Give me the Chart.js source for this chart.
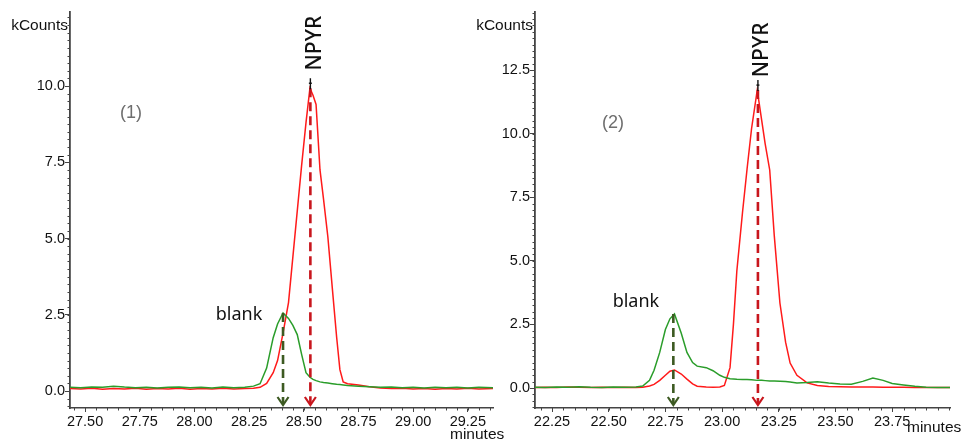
<!DOCTYPE html>
<html><head><meta charset="utf-8">
<script src="https://cdn.jsdelivr.net/npm/chart.js@4.4.1/dist/chart.umd.min.js"></script>
<style>
html,body{margin:0;padding:0;background:#fff;width:963px;height:439px;overflow:hidden;}
canvas{position:absolute;top:0;}
#c1{left:0;}
#c2{left:470px;}
</style></head><body>
<canvas id="c1" width="510" height="439"></canvas>
<canvas id="c2" width="493" height="439"></canvas>
<script>
// ---------- Panel (1) ----------
const leftTime = [27.43, 27.48, 27.53, 27.58, 27.63, 27.68, 27.73, 27.78, 27.83, 27.88, 27.93, 27.98, 28.03, 28.08, 28.13, 28.18, 28.23, 28.27, 28.30, 28.33, 28.36, 28.38, 28.405, 28.43, 28.45, 28.47, 28.49, 28.51, 28.528, 28.542, 28.556, 28.574, 28.59, 28.61, 28.63, 28.65, 28.665, 28.68, 28.70, 28.75, 28.80, 28.85, 28.90, 28.95, 29.00, 29.05, 29.10, 29.15, 29.20, 29.25, 29.30, 29.365];
const leftNPYR = [0.08, 0.07, 0.09, 0.06, 0.08, 0.07, 0.09, 0.06, 0.08, 0.07, 0.09, 0.06, 0.08, 0.07, 0.09, 0.07, 0.08, 0.09, 0.12, 0.25, 0.6, 1.0, 1.9, 2.9, 4.4, 5.9, 7.4, 8.8, 9.93, 9.7, 9.4, 7.25, 6.3, 5.05, 3.4, 1.77, 0.7, 0.3, 0.24, 0.2, 0.14, 0.1, 0.08, 0.09, 0.07, 0.08, 0.06, 0.08, 0.07, 0.09, 0.07, 0.08];
const leftBlank = [0.12, 0.11, 0.13, 0.12, 0.16, 0.13, 0.11, 0.12, 0.10, 0.12, 0.13, 0.11, 0.12, 0.10, 0.13, 0.11, 0.12, 0.16, 0.24, 0.75, 1.75, 2.2, 2.56, 2.38, 2.15, 1.85, 1.2, 0.6, 0.45, 0.38, 0.34, 0.3, 0.28, 0.26, 0.24, 0.22, 0.21, 0.2, 0.18, 0.16, 0.14, 0.12, 0.13, 0.11, 0.12, 0.10, 0.12, 0.11, 0.12, 0.10, 0.12, 0.11];
const leftXTicks = [27.50, 27.75, 28.00, 28.25, 28.50, 28.75, 29.00, 29.25];
const leftYTicks = [0, 2.5, 5.0, 7.5, 10.0];
const leftPeakTimes = [28.405, 28.53];   // blank, NPYR
const leftPeakTops = [2.56, 9.93];

// ---------- Panel (2) ----------
const rightTime = [22.175, 22.22, 22.27, 22.32, 22.37, 22.42, 22.47, 22.52, 22.57, 22.62, 22.65, 22.68, 22.70, 22.725, 22.75, 22.77, 22.79, 22.82, 22.845, 22.87, 22.89, 22.93, 22.96, 22.99, 23.01, 23.035, 23.05, 23.065, 23.09, 23.11, 23.13, 23.155, 23.175, 23.19, 23.21, 23.23, 23.255, 23.28, 23.30, 23.33, 23.375, 23.42, 23.47, 23.52, 23.57, 23.62, 23.665, 23.71, 23.75, 23.80, 23.85, 23.90, 23.95, 24.005];
const rightNPYR = [0.02, 0.03, 0.02, 0.04, 0.03, 0.02, 0.03, 0.02, 0.03, 0.02, 0.03, 0.08, 0.14, 0.3, 0.5, 0.66, 0.71, 0.55, 0.35, 0.16, 0.07, 0.04, 0.03, 0.04, 0.1, 0.8, 2.5, 4.6, 6.9, 8.6, 10.2, 11.71, 10.5, 9.6, 8.57, 6.0, 3.34, 1.8, 0.98, 0.5, 0.2, 0.1, 0.06, 0.05, 0.04, 0.04, 0.04, 0.03, 0.03, 0.03, 0.02, 0.02, 0.02, 0.02];
const rightBlank = [0.03, 0.02, 0.04, 0.03, 0.05, 0.03, 0.02, 0.04, 0.03, 0.04, 0.08, 0.3, 0.7, 1.4, 2.3, 2.72, 2.91, 2.15, 1.4, 1.0, 0.86, 0.8, 0.68, 0.5, 0.42, 0.36, 0.35, 0.34, 0.33, 0.33, 0.32, 0.3, 0.3, 0.29, 0.28, 0.28, 0.27, 0.26, 0.24, 0.2, 0.22, 0.25, 0.2, 0.16, 0.15, 0.26, 0.39, 0.3, 0.18, 0.12, 0.07, 0.03, 0.02, 0.02];
const rightXTicks = [22.25, 22.50, 22.75, 23.00, 23.25, 23.50, 23.75];
const rightYTicks = [0, 2.5, 5.0, 7.5, 10.0, 12.5];
const rightPeakTimes = [22.785, 23.158];
const rightPeakTops = [2.91, 11.71];

const AXIS = '#444';
const TICKFONT = {family: "'Liberation Sans', Arial, sans-serif", size: 14.5};

function drawArrow(ctx, x, yTop, yBottom, color) {
  ctx.save();
  ctx.strokeStyle = color;
  ctx.lineWidth = 2.6;
  ctx.setLineDash([9, 5]);
  ctx.beginPath(); ctx.moveTo(x, yTop); ctx.lineTo(x, yBottom - 1); ctx.stroke();
  ctx.setLineDash([]);
  ctx.lineWidth = 2.2;
  ctx.beginPath(); ctx.moveTo(x - 5.5, yBottom - 8); ctx.lineTo(x, yBottom); ctx.lineTo(x + 5.5, yBottom - 8); ctx.stroke();
  ctx.restore();
}

function makeChart(id, cfg) {
  const plugin = {
    id: 'deco' + id,
    afterDatasetsDraw(chart) {
      const ctx = chart.ctx, xs = chart.scales.x, ys = chart.scales.y, a = chart.chartArea;
      // minor ticks
      ctx.save();
      ctx.strokeStyle = AXIS; ctx.lineWidth = 1;
      for (let v = Math.ceil(ys.min / 0.25) * 0.25; v <= ys.max; v += 0.25) {
        const p = Math.round(ys.getPixelForValue(v)) + 0.5;
        ctx.beginPath(); ctx.moveTo(a.left - 2.5, p); ctx.lineTo(a.left, p); ctx.stroke();
      }
      for (let v = Math.ceil(xs.min / 0.05) * 0.05; v <= xs.max; v += 0.05) {
        const p = Math.round(xs.getPixelForValue(v)) + 0.5;
        ctx.beginPath(); ctx.moveTo(p, a.bottom); ctx.lineTo(p, a.bottom + 2.5); ctx.stroke();
      }
      ctx.restore();
      // dashed arrows
      const yB = a.bottom - 3;
      drawArrow(ctx, xs.getPixelForValue(cfg.peakTimes[0]), ys.getPixelForValue(cfg.peakTops[0]), yB, '#3d5a22');
      const rx = xs.getPixelForValue(cfg.peakTimes[1]), ry = ys.getPixelForValue(cfg.peakTops[1]);
      drawArrow(ctx, rx, ry, yB, '#c8161d');
      // black apex marker
      ctx.save();
      ctx.strokeStyle = '#111'; ctx.lineWidth = 1.4;
      ctx.beginPath(); ctx.moveTo(rx, ry - 10); ctx.lineTo(rx, ry + 1); ctx.stroke();
      ctx.beginPath(); ctx.moveTo(rx - 1.5, ry - 5); ctx.lineTo(rx + 1.5, ry - 5); ctx.stroke();
      ctx.restore();
      // texts
      ctx.save();
      ctx.fillStyle = '#111';
      ctx.font = "15.5px 'Liberation Sans', Arial, sans-serif";
      ctx.textAlign = 'right'; ctx.textBaseline = 'alphabetic';
      ctx.fillText('kCounts', a.left - 2, 30);
      ctx.textAlign = 'left';
      ctx.fillText('minutes', cfg.minutesX, cfg.minutesY);
      // panel number
      ctx.fillStyle = '#6e6e6e';
      ctx.font = "18px 'Liberation Sans', Arial, sans-serif";
      ctx.textAlign = 'center'; ctx.textBaseline = 'middle';
      ctx.fillText(cfg.panelLabel, xs.getPixelForValue(cfg.panelPos[0]), ys.getPixelForValue(cfg.panelPos[1]));
      // blank
      ctx.fillStyle = '#111';
      ctx.font = "18px 'Noto Sans', sans-serif";
      ctx.textBaseline = 'alphabetic';
      ctx.fillText('blank', xs.getPixelForValue(cfg.blankPos[0]), ys.getPixelForValue(cfg.blankPos[1]));
      // NPYR rotated
      ctx.translate(xs.getPixelForValue(cfg.npyrPos[0]), ys.getPixelForValue(cfg.npyrPos[1]));
      ctx.rotate(-Math.PI / 2);
      ctx.font = "500 21px 'Noto Sans', sans-serif";
      ctx.textBaseline = 'middle';
      ctx.fillText('NPYR', 0, 0);
      ctx.restore();
    }
  };
  const mk = (t, v) => t.map((x, i) => ({x: x, y: v[i]}));
  return new Chart(document.getElementById(id), {
    type: 'line',
    data: {
      datasets: [
        {label: 'blank', data: mk(cfg.time, cfg.blank), borderColor: '#2a9d2a', borderWidth: 1.5, pointRadius: 0, tension: 0, fill: false},
        {label: 'NPYR', data: mk(cfg.time, cfg.npyr), borderColor: '#ff1a1a', borderWidth: 1.5, pointRadius: 0, tension: 0, fill: false}
      ]
    },
    options: {
      responsive: false, animation: false, devicePixelRatio: 1,
      layout: {padding: {left: 0, top: 12, right: cfg.padRight, bottom: 0}},
      plugins: {legend: {display: false}, tooltip: {enabled: false}},
      scales: {
        x: {
          type: 'linear', min: cfg.xMin, max: cfg.xMax,
          afterBuildTicks: s => { s.ticks = cfg.xTicks.map(v => ({value: v})); },
          afterFit: s => { s.height = 31; },
          ticks: {font: TICKFONT, color: '#111', padding: 1, maxRotation: 0, autoSkip: false, callback: v => Number(v).toFixed(2)},
          grid: {display: true, drawOnChartArea: false, drawTicks: true, tickLength: 4, color: AXIS},
          border: {display: true, color: AXIS, width: 1.6}
        },
        y: {
          type: 'linear', min: cfg.yMin, max: cfg.yMax,
          afterBuildTicks: s => { s.ticks = cfg.yTicks.map(v => ({value: v})); },
          afterFit: s => { s.width = cfg.yWidth; },
          ticks: {font: TICKFONT, color: '#111', padding: 0, autoSkip: false, callback: v => Number(v).toFixed(1)},
          grid: {display: true, drawOnChartArea: false, drawTicks: true, tickLength: 5, color: AXIS},
          border: {display: true, color: AXIS, width: 1.8}
        }
      }
    },
    plugins: [plugin]
  });
}

makeChart('c1', {
  time: leftTime, npyr: leftNPYR, blank: leftBlank,
  xMin: 27.431, xMax: 29.365, yMin: -0.557, yMax: 12.43,
  xTicks: leftXTicks, yTicks: leftYTicks, yWidth: 70, padRight: 17,
  peakTimes: leftPeakTimes, peakTops: leftPeakTops,
  panelLabel: '(1)', panelPos: [27.71, 9.11], blankPos: [28.204, 2.33], npyrPos: [28.55, 11.41],
  minutesX: 450, minutesY: 439
});
makeChart('c2', {
  time: rightTime, npyr: rightNPYR, blank: rightBlank,
  xMin: 22.175, xMax: 24.005, yMin: -0.786, yMax: 14.78,
  xTicks: rightXTicks, yTicks: rightYTicks, yWidth: 65, padRight: 13,
  peakTimes: rightPeakTimes, peakTops: rightPeakTops,
  panelLabel: '(2)', panelPos: [22.519, 10.42], blankPos: [22.62, 3.18], npyrPos: [23.176, 13.29],
  minutesX: 437, minutesY: 432
});
</script>
</body></html>
